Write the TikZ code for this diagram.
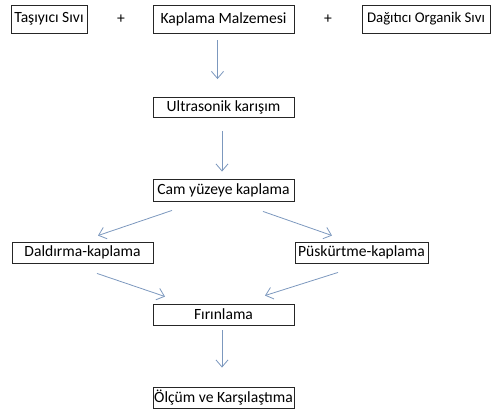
\documentclass[tikz,border=0pt]{standalone}
\usepackage{fontspec}
\setmainfont{Carlito}
\usetikzlibrary{arrows.meta,calc,positioning}
\definecolor{okmavi}{RGB}{124,152,190}

\begin{document}
\begin{tikzpicture}[x=1pt,y=-1pt,>={Straight Barb[length=7pt,width=12pt]},
  stepbox/.style={draw=black!85,line width=0.9pt,inner sep=0pt,minimum height=21pt,
    font=\fontsize{15.6}{18}\selectfont},
  flow/.style={->,draw=okmavi,line width=0.8pt}]
\useasboundingbox (0,0) rectangle (491,412);
% ingredients
\node[stepbox,minimum width=76pt,minimum height=28pt] (tasiyici) at (49,19) {Taşıyıcı Sıvı};
\node[stepbox,minimum width=141pt,minimum height=28pt] (malzeme) at (223.5,19) {Kaplama Malzemesi};
\node[stepbox,minimum width=128pt,minimum height=28pt,font=\fontsize{14.8}{18}\selectfont] (dagitici) at (426,19) {Dağıtıcı Organik Sıvı};
\node[font=\fontsize{15.6}{18}\selectfont] (arti1) at (121,19) {+};
\node[font=\fontsize{15.6}{18}\selectfont] (arti2) at (328,19) {+};
% process steps
\node[stepbox,minimum width=141pt,minimum height=20pt] (karisim) at (223.5,107.5) {Ultrasonik karışım};
\node[stepbox,minimum width=141pt,minimum height=22pt] (cam) at (223.5,190) {Cam yüzeye kaplama};
\node[stepbox,minimum width=141pt] (daldirma) at (82.5,252.5) {Daldırma-kaplama};
\node[stepbox,minimum width=133pt] (puskurtme) at (361.5,252.5) {Püskürtme-kaplama};
\node[stepbox,minimum width=141pt] (firin) at (223.5,314.5) {Fırınlama};
\node[stepbox,minimum width=141pt] (olcum) at (223.5,397.5) {Ölçüm ve Karşılaştıma};
% arrows
\draw[flow,shorten <=7pt,shorten >=18pt] ([xshift=-6pt]malzeme.south) -- ([xshift=-6pt]karisim.north);
\draw[flow,shorten <=13pt,shorten >=7pt] ([xshift=-1.5pt]karisim.south) -- ([xshift=-1.5pt]cam.north);
\draw[flow] ([xshift=-51.5pt,yshift=-9pt]cam.south) -- ([xshift=15.5pt,yshift=6pt]daldirma.north);
\draw[flow] ([xshift=39.5pt,yshift=-10pt]cam.south) -- ([xshift=-29.5pt,yshift=6pt]puskurtme.north);
\draw[flow] ([xshift=14.5pt,yshift=-10pt]daldirma.south) -- ([xshift=-58.5pt,yshift=7pt]firin.north);
\draw[flow] ([xshift=-23.5pt,yshift=-9pt]puskurtme.south) -- ([xshift=41.5pt,yshift=8pt]firin.north);
\draw[flow,shorten <=5pt,shorten >=19pt] ([xshift=-1.5pt]firin.south) -- ([xshift=-1.5pt]olcum.north);
\end{tikzpicture}
\end{document}
